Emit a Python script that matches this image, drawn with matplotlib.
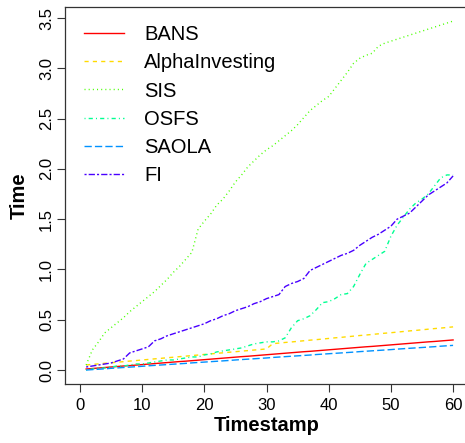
import matplotlib
matplotlib.use("Agg")
import matplotlib.pyplot as plt
import numpy as np

plt.rcParams['font.family'] = ['Liberation Sans', 'DejaVu Sans']

timestamps = list(range(1, 61))

bans = [0.010,0.015,0.020,0.025,0.030,0.035,0.040,0.044,0.049,0.054,
        0.059,0.064,0.069,0.074,0.079,0.084,0.088,0.093,0.098,0.103,
        0.108,0.113,0.118,0.123,0.128,0.133,0.137,0.142,0.147,0.152,
        0.157,0.162,0.167,0.172,0.177,0.182,0.186,0.191,0.196,0.201,
        0.206,0.211,0.216,0.221,0.226,0.231,0.235,0.240,0.245,0.250,
        0.255,0.260,0.265,0.270,0.275,0.280,0.284,0.289,0.294,0.299]

alpha_investing = [0.050,0.056,0.061,0.067,0.072,0.078,0.083,0.089,0.094,0.100,
                   0.105,0.111,0.116,0.122,0.127,0.133,0.138,0.144,0.149,0.155,
                   0.160,0.166,0.171,0.177,0.182,0.188,0.193,0.199,0.204,0.210,
                   0.262,0.268,0.274,0.279,0.285,0.291,0.297,0.302,0.308,0.314,
                   0.320,0.325,0.331,0.337,0.343,0.348,0.354,0.360,0.366,0.371,
                   0.377,0.383,0.389,0.394,0.400,0.406,0.412,0.417,0.423,0.429]

sis = [0.05,0.20,0.28,0.37,0.42,0.47,0.52,0.58,0.63,0.68,
       0.73,0.78,0.84,0.90,0.97,1.03,1.10,1.17,1.40,1.48,
       1.55,1.64,1.70,1.78,1.87,1.94,2.02,2.08,2.14,2.19,
       2.23,2.28,2.33,2.38,2.44,2.51,2.58,2.63,2.68,2.72,
       2.80,2.88,2.96,3.05,3.10,3.13,3.15,3.22,3.25,3.27,
       3.29,3.31,3.33,3.35,3.37,3.39,3.41,3.43,3.45,3.47]

osfs = [0.00,0.01,0.02,0.02,0.03,0.04,0.04,0.05,0.06,0.06,
        0.07,0.08,0.09,0.10,0.10,0.11,0.12,0.13,0.13,0.15,
        0.16,0.18,0.19,0.20,0.21,0.22,0.24,0.26,0.27,0.28,
        0.28,0.29,0.32,0.42,0.49,0.51,0.54,0.60,0.67,0.68,
        0.71,0.75,0.76,0.83,0.95,1.06,1.10,1.14,1.18,1.33,
        1.44,1.52,1.60,1.66,1.70,1.75,1.83,1.91,1.94,1.94]

saola = [0.000,0.004,0.008,0.012,0.017,0.021,0.025,0.029,0.033,0.037,
         0.042,0.046,0.050,0.054,0.058,0.062,0.066,0.071,0.075,0.079,
         0.083,0.087,0.091,0.095,0.100,0.104,0.108,0.112,0.116,0.120,
         0.125,0.129,0.133,0.137,0.141,0.145,0.149,0.154,0.158,0.162,
         0.166,0.170,0.174,0.178,0.183,0.187,0.191,0.195,0.199,0.203,
         0.208,0.212,0.216,0.220,0.224,0.228,0.232,0.237,0.241,0.245]

fi = [0.03,0.04,0.05,0.06,0.07,0.09,0.11,0.17,0.19,0.21,
      0.23,0.29,0.31,0.34,0.36,0.38,0.40,0.42,0.44,0.46,
      0.49,0.51,0.54,0.56,0.59,0.61,0.63,0.66,0.68,0.71,
      0.73,0.75,0.83,0.86,0.88,0.91,0.99,1.02,1.05,1.08,
      1.11,1.14,1.16,1.19,1.24,1.28,1.32,1.35,1.39,1.43,
      1.50,1.53,1.56,1.62,1.68,1.74,1.78,1.82,1.86,1.93]

labels = ["BANS", "AlphaInvesting", "SIS", "OSFS", "SAOLA", "FI"]
series = [bans, alpha_investing, sis, osfs, saola, fi]
colors = ["#FF0000", "#FFDB00", "#49FF00", "#00FF92", "#0092FF", "#4900FF"]
s = 0.75
styles = ["-", (0, (4*s, 4*s)), (0, (1*s, 3*s)), (0, (1*s, 3*s, 4*s, 3*s)),
          (0, (7*s, 3*s)), (0, (2*s, 2*s, 6*s, 2*s))]

W, H = 465, 443
fig = plt.figure(figsize=(W/100, H/100), dpi=100)
ax = fig.add_axes([65/W, (H-384)/H, 403/W, (384-7)/H])

for y, lab, c, ls in zip(series, labels, colors, styles):
    ax.plot(timestamps, y, color=c, linestyle=ls, lw=1.0, label=lab)

ax.set_xlim(-2.4, 62.4)
ax.set_ylim(-0.139, 3.61)
ax.set_xticks([0, 10, 20, 30, 40, 50, 60])
ax.set_yticks([0.0, 0.5, 1.0, 1.5, 2.0, 2.5, 3.0, 3.5])
ax.set_yticklabels(["0.0", "0.5", "1.0", "1.5", "2.0", "2.5", "3.0", "3.5"],
                   rotation=90, va='center')
ax.tick_params(axis='both', labelsize=12, length=6, width=0.8, color='#333333')
ax.tick_params(axis='x', pad=4)
ax.tick_params(axis='y', pad=2)
for sp in ax.spines.values():
    sp.set_color('#333333')
    sp.set_linewidth(0.9)

ax.set_xlabel("Timestamp", fontsize=14.5, fontweight='bold', labelpad=2)
ax.set_ylabel("Time", fontsize=14.5, fontweight='bold', labelpad=7)

ax.legend(loc='upper left', bbox_to_anchor=(19/403, 1 - 18/377), frameon=False,
          fontsize=14.5, handlelength=2.0, handletextpad=1.0, labelspacing=0.46,
          borderpad=0, borderaxespad=0)

fig.savefig("out.png", dpi=100)
